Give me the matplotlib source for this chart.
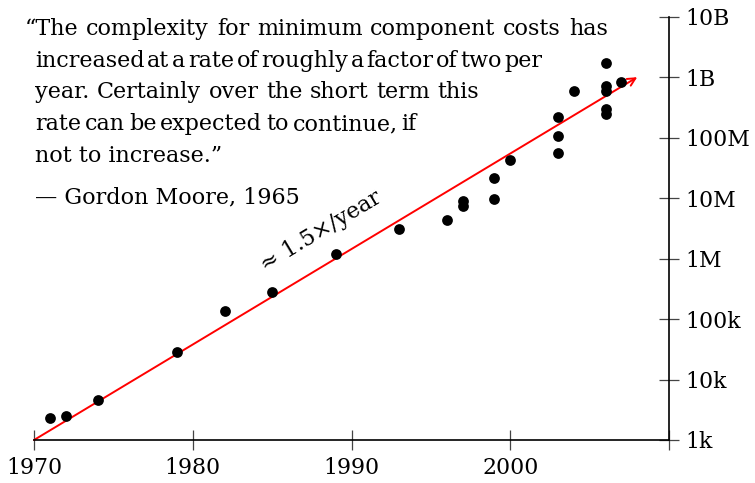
import matplotlib
matplotlib.use("Agg")
import matplotlib.pyplot as plt
from matplotlib.ticker import FixedLocator, FixedFormatter

# ---- data ----
years = [1971, 1972, 1974, 1979, 1982, 1985, 1989, 1993, 1996, 1997, 1997,
         1999, 1999, 2000, 2003, 2003, 2003, 2004, 2006, 2006, 2006, 2006,
         2006, 2007]
counts = [2300, 2500, 4500, 29000, 134000, 275000, 1.2e6, 3.1e6, 4.4e6,
          8.8e6, 7.5e6, 21.9e6, 9.5e6, 42e6, 220e6, 107e6, 56e6, 600e6,
          1.72e9, 710e6, 582e6, 300e6, 250e6, 830e6]
trend_years = [1970, 2008]
trend_counts = [1e3, 1e9]
x_ticks = [1970, 1980, 1990, 2000, 2010]
x_labels = ["1970", "1980", "1990", "2000", ""]
y_ticks = [1e3, 1e4, 1e5, 1e6, 1e7, 1e8, 1e9, 1e10]
y_labels = ["1k", "10k", "100k", "1M", "10M", "100M", "1B", "10B"]
trend_label = "\u2248 1.5\u00d7/year"
quote_lines = [
    "\u201cThe complexity for minimum component costs has",
    "increased at a rate of roughly a factor of two per",
    "year.  Certainly over the short term this",
    "rate can be expected to continue, if",
    "not to increase.\u201d",
]
attribution = "\u2014 Gordon Moore, 1965"

W, H = 755, 483
FONT = "DejaVu Serif"
FS = 15.8
FSQ = 16.0

fig = plt.figure(figsize=(W / 100, H / 100), dpi=100)
x0, x1 = 34, 669
y0, y1 = 440, 16.7
ax = fig.add_axes([x0 / W, (H - y0) / H, (x1 - x0) / W, (y0 - y1) / H])
ax.set_xlim(1970, 2010)
ax.set_yscale("log")
ax.set_ylim(1e3, 1e10)
ax.patch.set_alpha(0)

for s in ["top", "left"]:
    ax.spines[s].set_visible(False)
for s in ["bottom", "right"]:
    ax.spines[s].set_linewidth(1.2)
    ax.spines[s].set_color("black")

ax.yaxis.tick_right()
ax.xaxis.set_major_locator(FixedLocator(x_ticks))
ax.xaxis.set_major_formatter(FixedFormatter(x_labels))
ax.yaxis.set_major_locator(FixedLocator(y_ticks))
ax.yaxis.set_major_formatter(FixedFormatter(y_labels))
ax.yaxis.set_minor_locator(FixedLocator([]))
ax.tick_params(axis="both", which="major", direction="inout", length=14,
               width=0.9, color="#444444", labelsize=FS)
ax.tick_params(axis="y", which="minor", length=0)
for lab in ax.get_xticklabels() + ax.get_yticklabels():
    lab.set_family(FONT)
ax.tick_params(axis="x", pad=5)
ax.tick_params(axis="y", pad=5)

ax.annotate("", xy=(trend_years[1], trend_counts[1]),
            xytext=(trend_years[0], trend_counts[0]),
            arrowprops=dict(arrowstyle="->", color="red", lw=1.4,
                            shrinkA=0, shrinkB=0, mutation_scale=14),
            zorder=2)
ax.scatter(years, counts, s=60, color="black", zorder=3, linewidths=0)

ax.text(1988.1, 2.8e6, trend_label, rotation=31, ha="center", va="center",
        family=FONT, fontsize=FSQ, rotation_mode="anchor")

# ---- quote text, justified line by line ----
fig.canvas.draw()
renderer = fig.canvas.get_renderer()

def fx(px):
    return px / W

def fy(py):
    return 1 - py / H

def justified(line, left, right, base):
    words = line.split()
    arts = []
    widths = []
    for w in words:
        t = fig.text(0, 0, w, family=FONT, fontsize=FSQ, va="baseline",
                     ha="left")
        bb = t.get_window_extent(renderer)
        arts.append(t)
        widths.append(bb.width)
    gaps = len(words) - 1
    gap = (right - left - sum(widths)) / gaps if gaps else 0
    gap = max(gap, 2)
    x = left
    for t, w in zip(arts, widths):
        t.set_position((fx(x), fy(base)))
        x += w + gap

lefts = [25, 35, 35, 35]
rights = [607.7, 542.7, 479.3, 416.7]
bases = [35, 67, 98, 130]
for line, l, r, b in zip(quote_lines[:4], lefts, rights, bases):
    justified(line, l, r, b)
fig.text(fx(35), fy(162), quote_lines[4], family=FONT, fontsize=FSQ,
         va="baseline", ha="left")
fig.text(fx(35), fy(203), attribution, family=FONT, fontsize=FSQ,
         va="baseline", ha="left")

fig.savefig("out.png", dpi=100)
